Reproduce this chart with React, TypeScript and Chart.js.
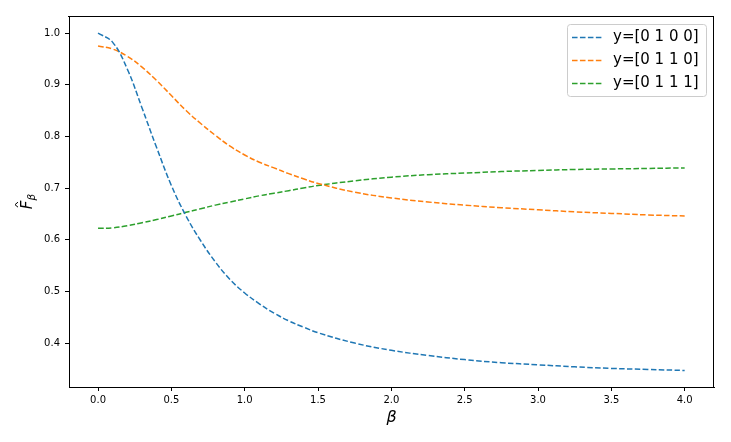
import React, { useEffect, useRef } from 'react';
import { Chart, registerables } from 'chart.js';

Chart.register(...registerables);

// beta values
const betas = [0, 0.1, 0.2, 0.3, 0.4, 0.5, 0.6, 0.7, 0.8, 0.9, 1.0, 1.1, 1.2, 1.3, 1.4, 1.5, 1.75, 2.0, 2.25, 2.5, 2.75, 3.0, 3.25, 3.5, 3.75, 4.0];

const series0100 = [1.0, 0.982, 0.930, 0.855, 0.778, 0.705, 0.646, 0.598, 0.557, 0.523, 0.497, 0.476, 0.458, 0.443, 0.431, 0.420, 0.400, 0.386, 0.376, 0.368, 0.362, 0.358, 0.354, 0.351, 0.349, 0.347];
const series0110 = [0.975, 0.969, 0.955, 0.934, 0.908, 0.879, 0.850, 0.825, 0.802, 0.781, 0.764, 0.750, 0.739, 0.728, 0.718, 0.709, 0.692, 0.681, 0.673, 0.667, 0.662, 0.658, 0.654, 0.651, 0.648, 0.646];
const series0111 = [0.622, 0.623, 0.627, 0.633, 0.639, 0.646, 0.653, 0.660, 0.667, 0.673, 0.679, 0.685, 0.690, 0.695, 0.700, 0.705, 0.714, 0.721, 0.726, 0.729, 0.732, 0.734, 0.736, 0.737, 0.738, 0.739];

const seriesLabels = ['y=[0 1 0 0]', 'y=[0 1 1 0]', 'y=[0 1 1 1]'];
const seriesColors = ['#1f77b4', '#ff7f0e', '#2ca02c'];

const xTicks = [0, 0.5, 1.0, 1.5, 2.0, 2.5, 3.0, 3.5, 4.0];
const yTicks = [0.4, 0.5, 0.6, 0.7, 0.8, 0.9, 1.0];

const FONT = "'DejaVu Sans', sans-serif";

const framePlugin = {
  id: 'frame',
  afterDraw(chart: any) {
    const ctx: CanvasRenderingContext2D = chart.ctx;
    const area = chart.chartArea;
    const l = Math.round(area.left) - 1;
    const r = Math.round(area.right) - 1;
    const t = Math.round(area.top);
    const b = Math.round(area.bottom) - 1;
    ctx.save();
    ctx.setLineDash([]);
    ctx.globalAlpha = 1;
    ctx.fillStyle = '#000';
    // top and right spines
    ctx.fillRect(l, t, r - l + 1, 1);
    ctx.fillRect(r, t, 1, b - t + 1);

    // legend
    const bx = area.right - 147;
    const by = area.top + 8;
    const bw = 139;
    const bh = 72;
    ctx.beginPath();
    ctx.roundRect(bx + 0.5, by + 0.5, bw, bh, 3);
    ctx.fillStyle = 'rgba(255,255,255,0.8)';
    ctx.fill();
    ctx.strokeStyle = '#cccccc';
    ctx.lineWidth = 1;
    ctx.stroke();
    ctx.font = `15px ${FONT}`;
    ctx.textBaseline = 'middle';
    chart.data.datasets.forEach((ds: any, i: number) => {
      const cy = by + 13.5 + i * 23;
      ctx.beginPath();
      ctx.setLineDash([5.55, 2.4]);
      ctx.strokeStyle = ds.borderColor;
      ctx.lineWidth = 1.5;
      ctx.moveTo(bx + 5, cy);
      ctx.lineTo(bx + 35, cy);
      ctx.stroke();
      ctx.setLineDash([]);
      ctx.fillStyle = '#000';
      ctx.fillText(ds.label, bx + 46, cy);
    });

    // x title
    ctx.font = `italic 16px ${FONT}`;
    ctx.textAlign = 'center';
    ctx.textBaseline = 'alphabetic';
    ctx.fillText('β', (area.left + area.right) / 2, 422);

    // y title
    ctx.translate(27, (area.top + area.bottom) / 2);
    ctx.rotate(-Math.PI / 2);
    ctx.textAlign = 'left';
    ctx.font = `italic 15px ${FONT}`;
    const fw = ctx.measureText('F').width;
    ctx.font = `italic 10.5px ${FONT}`;
    const sw = ctx.measureText('β').width;
    const x0 = -(fw + sw) / 2;
    ctx.font = `italic 15px ${FONT}`;
    ctx.fillText('F', x0, 5);
    ctx.font = `italic 10.5px ${FONT}`;
    ctx.fillText('β', x0 + fw, 8);
    ctx.beginPath();
    ctx.lineWidth = 1;
    ctx.strokeStyle = '#000';
    ctx.moveTo(x0 + 2, -9);
    ctx.lineTo(x0 + 4.5, -12);
    ctx.lineTo(x0 + 7, -9);
    ctx.stroke();
    ctx.restore();
  },
};

const FBetaChart: React.FC = () => {
  const chartRef = useRef<HTMLCanvasElement>(null);
  const chartInstanceRef = useRef<Chart | null>(null);

  useEffect(() => {
    if (chartRef.current) {
      if (chartInstanceRef.current) {
        chartInstanceRef.current.destroy();
      }
      const ctx = chartRef.current.getContext('2d');
      if (ctx) {
        const allSeries = [series0100, series0110, series0111];
        chartInstanceRef.current = new Chart(ctx, {
          type: 'line',
          data: {
            datasets: allSeries.map((vals, i) => ({
              label: seriesLabels[i],
              data: betas.map((b, j) => ({ x: b, y: vals[j] })),
              borderColor: seriesColors[i],
              backgroundColor: seriesColors[i],
              borderWidth: 1.5,
              borderDash: [5.55, 2.4],
              pointRadius: 0,
              tension: 0.4,
              fill: false,
            })),
          },
          options: {
            responsive: false,
            animation: false,
            devicePixelRatio: 1,
            layout: { padding: { top: 16, right: 17, left: 0, bottom: 0 } },
            plugins: {
              legend: { display: false },
              tooltip: { enabled: false },
            },
            scales: {
              x: {
                type: 'linear',
                min: -0.198,
                max: 4.2,
                afterBuildTicks: (scale: any) => {
                  scale.ticks = xTicks.map((v) => ({ value: v }));
                },
                afterFit: (scale: any) => {
                  scale.height = 55;
                },
                ticks: {
                  autoSkip: false,
                  maxRotation: 0,
                  padding: 3,
                  color: '#000',
                  font: { family: FONT, size: 10 },
                  callback: (v: any) => Number(v).toFixed(1),
                },
                grid: { drawOnChartArea: false, tickLength: 4, tickColor: '#000', color: '#000' },
                border: { color: '#000', width: 1 },
              },
              y: {
                type: 'linear',
                min: 0.315,
                max: 1.033,
                afterBuildTicks: (scale: any) => {
                  scale.ticks = yTicks.map((v) => ({ value: v }));
                },
                afterFit: (scale: any) => {
                  scale.width = 69;
                },
                ticks: {
                  autoSkip: false,
                  padding: 5,
                  color: '#000',
                  font: { family: FONT, size: 10 },
                  callback: (v: any) => Number(v).toFixed(1),
                },
                grid: { drawOnChartArea: false, tickLength: 4, tickColor: '#000', color: '#000' },
                border: { color: '#000', width: 1 },
              },
            },
          },
          plugins: [framePlugin],
        });
      }
    }
    return () => {
      if (chartInstanceRef.current) {
        chartInstanceRef.current.destroy();
      }
    };
  }, []);

  return (
    <div style={{ position: 'absolute', left: 0, top: 0, width: 731, height: 442, background: '#fff' }}>
      <canvas ref={chartRef} width={731} height={442}></canvas>
    </div>
  );
};

export default function App() {
  return <FBetaChart />;
}
